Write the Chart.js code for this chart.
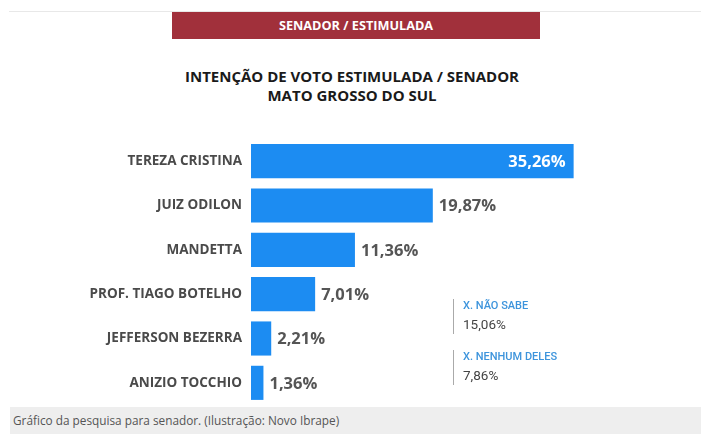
<!DOCTYPE html>
<html>
<head>
<meta charset="utf-8">
<script src="https://cdn.jsdelivr.net/npm/chart.js@4.4.1/dist/chart.umd.min.js"></script>
<style>
  html, body { margin: 0; padding: 0; background: #fff; }
  body { width: 701px; height: 434px; position: relative; overflow: hidden; font-family: "Open Sans", sans-serif; }
  .topline { position: absolute; left: 9px; right: 0; top: 11px; height: 1px; background: #e8e8e8; }
  .banner { position: absolute; left: 172px; top: 12px; width: 368px; height: 27px; background: #a1303b;
            color: #fff; font-weight: bold; font-size: 12.7px; line-height: 27px; text-align: center; }
  .title { position: absolute; left: 0; width: 704px; top: 67px; text-align: center; color: #1a1a1a;
           font-weight: bold; font-size: 15px; line-height: 18.5px; }
  #wrap { position: absolute; left: 0; top: 139px; width: 701px; height: 266px; }
  .note { position: absolute; left: 453px; border-left: 1px solid #aaa; padding-left: 9px; font-family: Roboto, sans-serif; }
  .note .k { color: #3d94dc; font-size: 11px; line-height: 14px; font-weight: 500; }
  .note .v { color: #444; font-size: 13.5px; line-height: 20px; margin-top: 1px; }
  .caption { position: absolute; left: 10px; right: 0; top: 407px; bottom: 0; background: #eeeeee;
             color: #555; font-size: 11.8px; line-height: 27px; padding-left: 3px; }
</style>
</head>
<body>
<div class="topline"></div>
<div class="banner">SENADOR / ESTIMULADA</div>
<div class="title">INTENÇÃO DE VOTO ESTIMULADA / SENADOR<br>MATO GROSSO DO SUL</div>
<div id="wrap"><canvas id="chart"></canvas></div>
<div class="note" style="top:299px"><div class="k">X. NÃO SABE</div><div class="v">15,06%</div></div>
<div class="note" style="top:350px"><div class="k">X. NENHUM DELES</div><div class="v">7,86%</div></div>
<div class="caption">Gráfico da pesquisa para senador. (Ilustração: Novo Ibrape)</div>
<script>
// Candidatos e percentuais
const candidatos = ['TEREZA CRISTINA', 'JUIZ ODILON', 'MANDETTA', 'PROF. TIAGO BOTELHO', 'JEFFERSON BEZERRA', 'ANIZIO TOCCHIO'];
const percentuais = [35.26, 19.87, 11.36, 7.01, 2.21, 1.36];
const rotulos = ['35,26%', '19,87%', '11,36%', '7,01%', '2,21%', '1,36%'];

// Rótulos de valor ao lado (ou dentro) das barras
const valorPlugin = {
  id: 'valores',
  afterDatasetsDraw(chart) {
    const ctx = chart.ctx;
    const meta = chart.getDatasetMeta(0);
    ctx.save();
    ctx.font = 'bold 16.5px "Open Sans"';
    ctx.textBaseline = 'middle';
    meta.data.forEach(function (bar, i) {
      if (i === 0) {
        ctx.fillStyle = '#ffffff';
        ctx.textAlign = 'right';
        ctx.fillText(rotulos[i], bar.x - 8, bar.y + 1);
      } else {
        ctx.fillStyle = '#555555';
        ctx.textAlign = 'left';
        ctx.fillText(rotulos[i], bar.x + 6, bar.y + 1);
      }
    });
    ctx.restore();
  }
};

new Chart(document.getElementById('chart'), {
  type: 'bar',
  data: {
    labels: candidatos,
    datasets: [{
      data: percentuais,
      backgroundColor: '#1c8cf2',
      barPercentage: 0.77,
      categoryPercentage: 1
    }]
  },
  options: {
    indexAxis: 'y',
    responsive: true,
    maintainAspectRatio: false,
    animation: false,
    layout: { autoPadding: false, padding: { left: 0, right: 84, top: 0, bottom: 0 } },
    plugins: { legend: { display: false }, tooltip: { enabled: false } },
    scales: {
      x: { display: false, min: 0, max: 40 },
      y: {
        afterFit(scale) {
          scale.width = 251;
          scale.paddingTop = 0;
          scale.paddingBottom = 0;
        },
        grid: { display: false, drawTicks: false },
        border: { display: false },
        ticks: { color: '#4a4a4a', padding: 9, font: { family: 'Open Sans', weight: 'bold', size: 13.5 } }
      }
    }
  },
  plugins: [valorPlugin]
});
</script>
</body>
</html>
